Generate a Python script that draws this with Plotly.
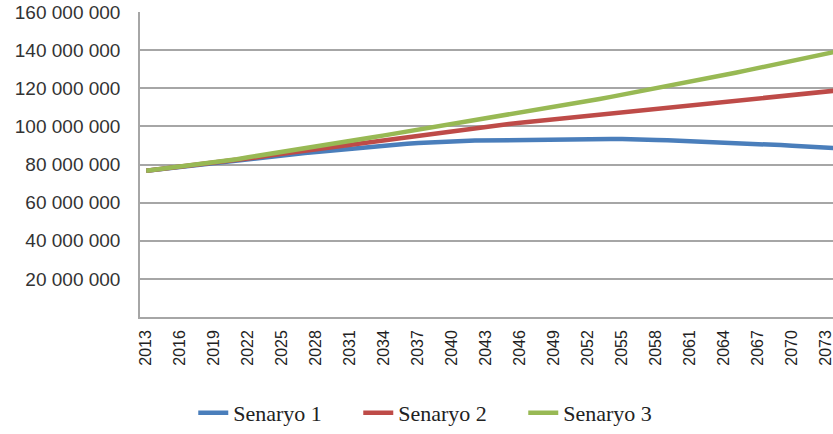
import plotly.graph_objects as go

years = list(range(2013, 2075))

senaryo1 = [76.7, 77.4, 78.1, 78.7, 79.4, 80.0, 80.7, 81.4, 82.0, 82.7,
            83.4, 84.0, 84.7, 85.3, 86.0, 86.6, 87.2, 87.8, 88.4, 88.9,
            89.5, 90.0, 90.5, 90.9, 91.3, 91.7, 92.0, 92.2, 92.4, 92.6,
            92.7, 92.8, 93.0, 93.1, 93.2, 93.3, 93.3, 93.4, 93.4, 93.4,
            93.4, 93.4, 93.4, 93.4, 93.2, 92.9, 92.7, 92.5, 92.3, 92.0,
            91.8, 91.6, 91.3, 91.0, 90.8, 90.5, 90.2, 89.9, 89.6, 89.3,
            89.0, 88.6]

senaryo2 = [76.7, 77.4, 78.1, 78.7, 79.4, 80.0, 80.8, 81.6, 82.4, 83.2,
            84.0, 84.9, 85.7, 86.5, 87.3, 88.1, 88.9, 89.7, 90.5, 91.3,
            92.2, 93.0, 93.8, 94.6, 95.4, 96.1, 96.9, 97.7, 98.4, 99.2,
            99.9, 100.7, 101.3, 101.9, 102.5, 103.1, 103.7, 104.3, 105.0, 105.6,
            106.2, 106.8, 107.5, 108.1, 108.7, 109.3, 109.9, 110.6, 111.2, 111.8,
            112.5, 113.1, 113.7, 114.3, 114.8, 115.4, 116.0, 116.6, 117.2, 117.7,
            118.3, 118.9]

senaryo3 = [76.7, 77.4, 78.1, 78.8, 79.4, 80.1, 81.0, 81.9, 82.8, 83.8,
            84.7, 85.6, 86.6, 87.5, 88.5, 89.4, 90.4, 91.4, 92.3, 93.3,
            94.3, 95.3, 96.3, 97.3, 98.3, 99.3, 100.3, 101.3, 102.2, 103.1,
            104.0, 104.9, 105.9, 106.9, 107.9, 109.0, 110.0, 111.1, 112.2, 113.3,
            114.4, 115.5, 116.6, 117.7, 118.8, 119.9, 121.1, 122.2, 123.4, 124.6,
            125.8, 127.0, 128.2, 129.4, 130.6, 131.8, 133.0, 134.3, 135.5, 136.8,
            138.1, 139.4]

series_names = ["Senaryo 1", "Senaryo 2", "Senaryo 3"]
series_values = [senaryo1, senaryo2, senaryo3]
colors = ["#4A7EBB", "#BE4B48", "#98B954"]

tick_years = list(range(2013, 2074, 3))
y_ticks = [20e6 * i for i in range(1, 9)]

fig = go.Figure()
for name, vals, col in zip(series_names, series_values, colors):
    fig.add_trace(go.Scatter(
        x=years, y=[v * 1e6 for v in vals], mode="lines", name=name,
        line=dict(color=col, width=4.5),
    ))

fig.update_layout(
    width=833, height=434,
    margin=dict(l=140, r=0, t=12, b=116),
    paper_bgcolor="white", plot_bgcolor="white",
    separators=", ",
    showlegend=True,
    legend=dict(
        orientation="h", x=0.434, y=-0.314, xanchor="center", yanchor="middle",
        font=dict(family="Liberation Serif", size=22, color="#222222"),
        entrywidth=120, itemwidth=30,
    ),
)
fig.update_xaxes(
    range=[2012.45, 2073.6], tickmode="array", tickvals=tick_years,
    ticktext=[str(t) for t in tick_years], tickangle=-90,
    showgrid=False, showline=True, linecolor="#A6A6A6", linewidth=1.5,
    ticks="", tickfont=dict(family="Liberation Sans", size=16, color="#222222"),
    automargin=False, ticklabelstandoff=5, ticklabeloverflow="allow",
)
fig.update_yaxes(
    range=[0, 160.05e6], tickmode="array", tickvals=y_ticks, tickformat=",d",
    showgrid=True, gridcolor="#A6A6A6", gridwidth=1.5,
    showline=True, linecolor="#A6A6A6", linewidth=1.5, zeroline=False,
    ticks="", tickfont=dict(family="Liberation Sans", size=19, color="#333333"),
    ticklabelstandoff=14, automargin=False, ticklabeloverflow="allow",
)

fig.write_html(
    "out.html",
    config={"displayModeBar": False},
    post_script="document.body.style.margin='0';",
)
